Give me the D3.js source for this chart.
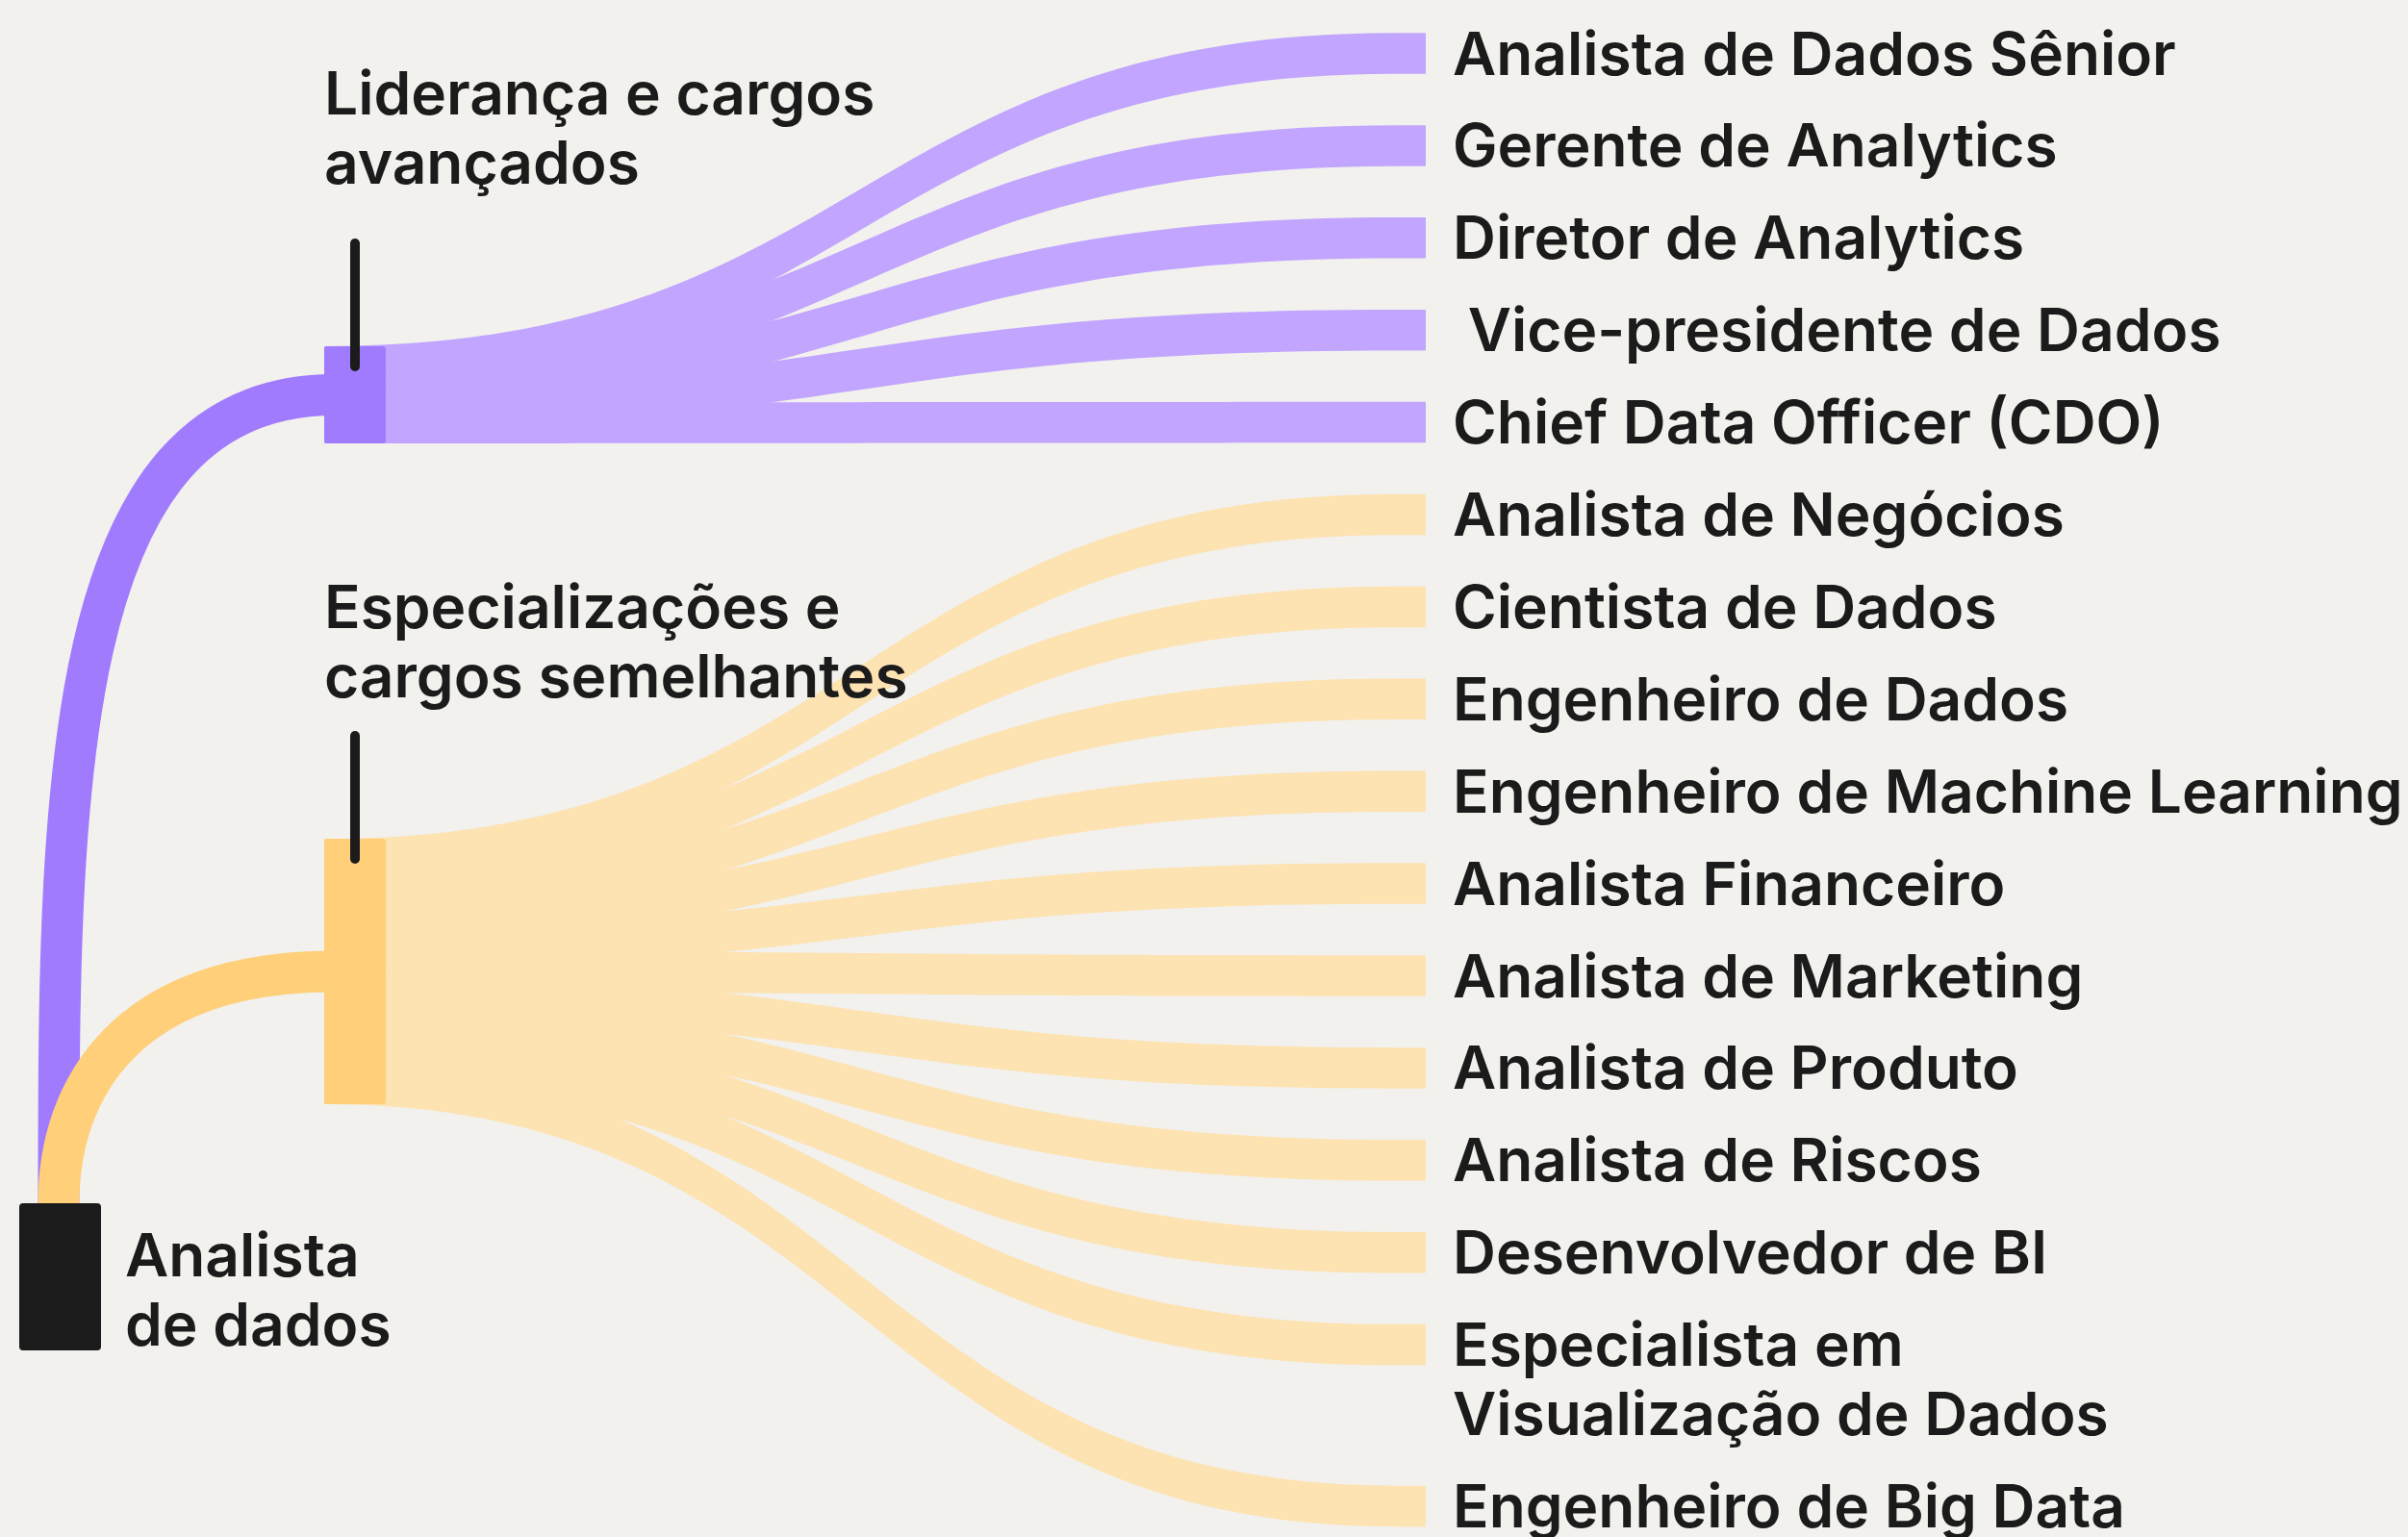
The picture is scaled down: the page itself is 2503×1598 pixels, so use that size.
<!DOCTYPE html>
<html>
<head>
<meta charset="utf-8">
<script src="https://cdn.jsdelivr.net/npm/d3@7"></script>
<style>
  html, body { margin: 0; padding: 0; background: #f2f1ed; }
  svg { display: block; }
  text { font-family: Inter, "Noto Sans", sans-serif; font-weight: 600; fill: #1b1b1b; white-space: pre; }
</style>
</head>
<body>
<div id="viz"></div>
<script>
// data
var rootLabel = ['Analista', 'de dados'];
var groupLabels = [['Liderança e cargos', 'avançados'], ['Especializações e', 'cargos semelhantes']];
var leadershipRoles = ['Analista de Dados Sênior', 'Gerente de Analytics', 'Diretor de Analytics',
    ' Vice-presidente de Dados', 'Chief Data Officer (CDO)'];
var leadershipValues = [1, 1, 1, 1, 1];
var specialistRoles = ['Analista de Negócios', 'Cientista de Dados', 'Engenheiro de Dados',
    'Engenheiro de Machine Learning', 'Analista Financeiro', 'Analista de Marketing',
    'Analista de Produto', 'Analista de Riscos', 'Desenvolvedor de BI',
    'Especialista em\nVisualização de Dados', 'Engenheiro de Big Data'];
var specialistValues = [1, 1, 1, 1, 1, 1, 1, 1, 1, 1, 1];

var width = 2503,
    height = 1598,
    fontSize = 62.2,
    lineH = 72;

var colors = {
  bg: '#f2f1ed', ink: '#1b1b1b',
  purple: '#a17bfe', purpleLink: '#c1a5fe',
  orange: '#ffcf7a', orangeLink: '#fde2b2'
};

var svg = d3.select('#viz').append('svg')
    .attr('width', width)
    .attr('height', height)
    .style('background', colors.bg);

// rows on the right: one unit per role, 0.75 extra per extra label line
var targets = [];
var unit = 0;
[[leadershipRoles, leadershipValues, 0], [specialistRoles, specialistValues, 1]].forEach(function(g) {
  g[0].forEach(function(name, i) {
    var lines = name.split('\n');
    targets.push({name: name, lines: lines, value: g[1][i], group: g[2], row: unit});
    unit += 1 + (lines.length - 1) * 0.75;
  });
});

var yRow = d3.scaleLinear().domain([0, 1]).range([55.5, 151.4]);
var wScale = d3.scaleLinear().domain([0, 1]).range([0, 42.5]);

var groups = [
  {label: groupLabels[0], top: 360, bottom: 461, fill: colors.purple, link: colors.purpleLink,
   labelY: 119, bend: 0},
  {label: groupLabels[1], top: 872, bottom: 1148, fill: colors.orange, link: colors.orangeLink,
   labelY: 653, bend: 0.25}
];
var gx0 = 337, gx1 = 401;
var root = {x0: 20, x1: 105, y0: 1251, y1: 1404, cx: 61};
var linkX1 = 1450, linkEnd = 1482;

// root -> group links
groups.forEach(function(g) {
  var x0 = root.cx, y0 = root.y0, x1 = gx0 + 10, y1 = (g.top + g.bottom) / 2;
  var dx = x1 - x0, dy = y0 - y1;
  g.rootPath = 'M' + x0 + ',' + y0 +
    'C' + x0 + ',' + (y0 - 0.5 * dy) + ' ' + (x0 + g.bend * dx) + ',' + y1 + ' ' + x1 + ',' + y1;
});
svg.selectAll('path.rootlink').data(groups)
  .enter().append('path')
    .attr('class', 'rootlink')
    .attr('d', function(d) { return d.rootPath; })
    .style('fill', 'none')
    .style('stroke', function(d) { return d.fill; })
    .style('stroke-width', wScale(1) + 0.5);

// group -> role links (constant vertical thickness)
groups.forEach(function(g, gi) {
  var members = targets.filter(function(t) { return t.group === gi; });
  var w = wScale(1);
  var ySrc = d3.scaleLinear().domain([0, members.length - 1])
      .range([g.top + w / 2, g.bottom - w / 2]);
  members.forEach(function(t, i) {
    t.ys = ySrc(i);
    t.yt = yRow(t.row);
    t.w = wScale(t.value);
  });
});

function band(t) {
  var xm = (gx0 + linkX1) / 2, h = t.w / 2;
  return 'M' + gx0 + ',' + (t.ys - h) +
    'C' + xm + ',' + (t.ys - h) + ' ' + xm + ',' + (t.yt - h) + ' ' + linkX1 + ',' + (t.yt - h) +
    'L' + linkEnd + ',' + (t.yt - h) + 'L' + linkEnd + ',' + (t.yt + h) + 'L' + linkX1 + ',' + (t.yt + h) +
    'C' + xm + ',' + (t.yt + h) + ' ' + xm + ',' + (t.ys + h) + ' ' + gx0 + ',' + (t.ys + h) + 'Z';
}

svg.selectAll('path.link').data(targets)
  .enter().append('path')
    .attr('class', 'link')
    .attr('d', band)
    .style('fill', function(d) { return groups[d.group].link; });

// nodes
svg.append('rect')
    .attr('x', root.x0).attr('y', root.y0)
    .attr('width', root.x1 - root.x0).attr('height', root.y1 - root.y0)
    .attr('rx', 4)
    .style('fill', colors.ink);

svg.selectAll('rect.group').data(groups)
  .enter().append('rect')
    .attr('class', 'group')
    .attr('x', gx0).attr('y', function(d) { return d.top; })
    .attr('width', gx1 - gx0)
    .attr('height', function(d) { return d.bottom - d.top; })
    .attr('rx', 3)
    .style('fill', function(d) { return d.fill; });

// ticks
svg.selectAll('line.tick').data(groups)
  .enter().append('line')
    .attr('class', 'tick')
    .attr('x1', 369).attr('x2', 369)
    .attr('y1', function(d) { return d.top - 107; })
    .attr('y2', function(d) { return d.top + 21; })
    .style('stroke', colors.ink)
    .style('stroke-width', 10)
    .style('stroke-linecap', 'round');

// labels
function multiline(sel, lines, x, y) {
  var t = sel.append('text').attr('x', x).attr('y', y).style('font-size', fontSize + 'px');
  lines.forEach(function(l, i) {
    t.append('tspan').attr('x', x).attr('y', y + i * lineH).text(l);
  });
  return t;
}

targets.forEach(function(t) {
  multiline(svg, t.lines, 1510, t.yt + 22);
});
groups.forEach(function(g) {
  multiline(svg, g.label, gx0, g.labelY);
});
multiline(svg, rootLabel, 130, 1327);
</script>
</body>
</html>
